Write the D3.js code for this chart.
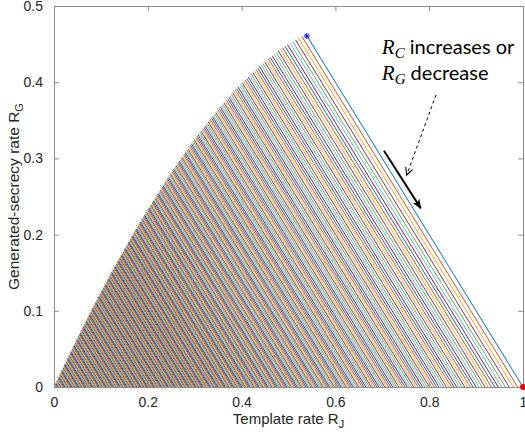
<!DOCTYPE html>
<html>
<head>
<meta charset="utf-8">
<script src="https://cdn.jsdelivr.net/npm/d3@7/dist/d3.min.js"></script>
<style>
  body { margin: 0; background: #fff; }
  text { font-family: "Liberation Sans", Arial, sans-serif; }
</style>
</head>
<body>
<svg width="525" height="439"></svg>
<script>
var curveRJ = [0, 0.0031, 0.0126, 0.0287, 0.0521, 0.0836, 0.125, 0.1787, 0.2497, 0.2948, 0.3496, 0.3894, 0.4378, 0.4781, 0.5031, 0.5214, 0.5379];
var curveRG = [0, 0.0041, 0.0164, 0.0372, 0.0666, 0.1051, 0.153, 0.2115, 0.2813, 0.3209, 0.3640, 0.3917, 0.4208, 0.4411, 0.4515, 0.4578, 0.4621];

// each line is R_J + R_G = c, c read where it meets the x axis.
// first one (blue) is the rightmost, they get denser towards the origin
var lineSums = [1.0000, 0.9886, 0.9792, 0.9705, 0.9624, 0.9546, 0.9471, 0.9398, 0.9328, 0.9259,
  0.9192, 0.9127, 0.9062, 0.9000, 0.8937, 0.8877, 0.8817, 0.8758, 0.8699, 0.8643,
  0.8586, 0.8530, 0.8475, 0.8420, 0.8367, 0.8313, 0.8261, 0.8209, 0.8158, 0.8107,
  0.8056, 0.8006, 0.7956, 0.7907, 0.7859, 0.7811, 0.7764, 0.7717, 0.7670, 0.7623,
  0.7577, 0.7532, 0.7487, 0.7442, 0.7397, 0.7352, 0.7308, 0.7265, 0.7222, 0.7179,
  0.7136, 0.7094, 0.7052, 0.7010, 0.6969, 0.6928, 0.6887, 0.6846, 0.6806, 0.6766,
  0.6726, 0.6687, 0.6648, 0.6609, 0.6571, 0.6532, 0.6494, 0.6456, 0.6418, 0.6379,
  0.6341, 0.6305, 0.6268, 0.6232, 0.6195, 0.6159, 0.6123, 0.6087, 0.6050, 0.6014,
  0.5978, 0.5944, 0.5909, 0.5875, 0.5841, 0.5807, 0.5772, 0.5738, 0.5704, 0.5669,
  0.5635, 0.5603, 0.5570, 0.5538, 0.5505, 0.5473, 0.5440, 0.5408, 0.5375, 0.5343,
  0.5310, 0.5278, 0.5247, 0.5215, 0.5184, 0.5153, 0.5122, 0.5091, 0.5060, 0.5029,
  0.4999, 0.4968, 0.4938, 0.4908, 0.4878, 0.4849, 0.4820, 0.4791, 0.4762, 0.4734,
  0.4706, 0.4677, 0.4648, 0.4620, 0.4591, 0.4563, 0.4535, 0.4508, 0.4480, 0.4453,
  0.4426, 0.4399, 0.4372, 0.4345, 0.4318, 0.4291, 0.4265, 0.4238, 0.4211, 0.4184,
  0.4158, 0.4132, 0.4106, 0.4080, 0.4055, 0.4030, 0.4005, 0.3980, 0.3955, 0.3930,
  0.3905, 0.3880, 0.3855, 0.3830, 0.3805, 0.3780, 0.3755, 0.3731, 0.3706, 0.3682,
  0.3657, 0.3634, 0.3611, 0.3588, 0.3565, 0.3542, 0.3519, 0.3496, 0.3473, 0.3450,
  0.3428, 0.3405, 0.3382, 0.3359, 0.3336, 0.3313, 0.3290, 0.3267, 0.3244, 0.3222,
  0.3199, 0.3177, 0.3155, 0.3133, 0.3111, 0.3090, 0.3069,
  0.3048, 0.3027, 0.3006, 0.2985, 0.2964, 0.2943, 0.2922, 0.2901, 0.2880, 0.2859,
  0.2838, 0.2817, 0.2796, 0.2775, 0.2754, 0.2733, 0.2712, 0.2691, 0.2670, 0.2649,
  0.2628, 0.2607, 0.2586, 0.2565, 0.2544, 0.2523, 0.2502, 0.2481, 0.2460, 0.2439,
  0.2418, 0.2397, 0.2376, 0.2355, 0.2334, 0.2313, 0.2292, 0.2271, 0.2250, 0.2229,
  0.2208, 0.2187, 0.2166, 0.2145, 0.2124, 0.2103, 0.2082, 0.2061, 0.2040, 0.2019,
  0.1998, 0.1977, 0.1956, 0.1935, 0.1914, 0.1893, 0.1872, 0.1851, 0.1830, 0.1809,
  0.1788, 0.1767, 0.1746, 0.1725, 0.1704, 0.1683, 0.1662, 0.1641, 0.1620, 0.1599,
  0.1578, 0.1557, 0.1536, 0.1515, 0.1494, 0.1473, 0.1452, 0.1431, 0.1410, 0.1389,
  0.1368, 0.1347, 0.1326, 0.1305, 0.1284, 0.1263, 0.1242, 0.1221, 0.1200, 0.1179,
  0.1158, 0.1137, 0.1116, 0.1095, 0.1074, 0.1053, 0.1032, 0.1011, 0.0990, 0.0969,
  0.0948, 0.0927, 0.0906, 0.0885, 0.0864, 0.0843, 0.0822, 0.0801, 0.0780, 0.0759,
  0.0738, 0.0717, 0.0696, 0.0675, 0.0654, 0.0633, 0.0612, 0.0591, 0.0570, 0.0549,
  0.0528, 0.0507, 0.0486, 0.0465, 0.0444, 0.0423, 0.0402, 0.0381, 0.0360, 0.0339,
  0.0318, 0.0297, 0.0276, 0.0255, 0.0234, 0.0213, 0.0192, 0.0171, 0.0150, 0.0129,
  0.0108, 0.0087, 0.0066, 0.0045, 0.0024];

var xTicks = [0, 0.2, 0.4, 0.6, 0.8, 1];
var yTicks = [0, 0.1, 0.2, 0.3, 0.4, 0.5];
var starPoint = [0.539, 0.4606];
var redPoint = [1, 0];

// matlab default color order
var colorOrder = ["#0072BD", "#D95319", "#EDB120", "#7E2F8E", "#77AC30", "#4DBEEE", "#A2142F"];

var svg = d3.select("svg");
var margin = {top: 6, right: 2, bottom: 52, left: 54};
var width = +svg.attr("width") - margin.left - margin.right,
    height = +svg.attr("height") - margin.top - margin.bottom;

var g = svg.append("g").attr("transform", "translate(" + margin.left + "," + margin.top + ")");

var x = d3.scaleLinear().domain([0, 1]).range([0, width]);
var y = d3.scaleLinear().domain([0, 0.5]).range([height, 0]);

g.append("clipPath").attr("id", "clip")
  .append("rect").attr("width", width).attr("height", height);

// where the line R_J + R_G = c starts on the boundary curve
function startOn(c) {
  for (var i = 0; i < curveRJ.length - 1; i++) {
    var s0 = curveRJ[i] + curveRG[i], s1 = curveRJ[i + 1] + curveRG[i + 1];
    if (c >= s0 && c <= s1) {
      var t = (c - s0) / (s1 - s0);
      return [curveRJ[i] + t * (curveRJ[i + 1] - curveRJ[i]), curveRG[i] + t * (curveRG[i + 1] - curveRG[i])];
    }
  }
  return [curveRJ[curveRJ.length - 1], curveRG[curveRG.length - 1]];
}

var segs = lineSums.map(function(c, i) {
  return {pts: [startOn(c), [c, 0]], color: colorOrder[i % colorOrder.length]};
});

var line = d3.line().x(function(d) { return x(d[0]); }).y(function(d) { return y(d[1]); });

// plotted in order, like matlab does with hold on
g.append("g").attr("clip-path", "url(#clip)")
  .selectAll("path")
  .data(segs)
  .enter().append("path")
  .attr("fill", "none")
  .attr("stroke", function(d) { return d.color; })
  .attr("stroke-width", 1)
  .attr("d", function(d) { return line(d.pts); });

// axes (box with inward ticks like matlab)
var axisColor = "#8c8c8c";
function styleAxis(sel) {
  sel.select(".domain").remove();
  sel.selectAll(".tick line").attr("stroke", axisColor);
  sel.selectAll(".tick text").attr("fill", "#262626").style("font-size", "14px");
}
g.append("g").attr("transform", "translate(0," + height + ")")
  .call(d3.axisBottom(x).tickValues(xTicks).tickSize(-5).tickPadding(10).tickFormat(d3.format("")))
  .call(styleAxis);
g.append("g")
  .call(d3.axisTop(x).tickValues(xTicks).tickSize(-5).tickFormat(""))
  .call(styleAxis);
g.append("g")
  .call(d3.axisLeft(y).tickValues(yTicks).tickSize(-5).tickPadding(11).tickFormat(d3.format("")))
  .call(styleAxis);
g.append("g").attr("transform", "translate(" + width + ",0)")
  .call(d3.axisRight(y).tickValues(yTicks).tickSize(-5).tickFormat(""))
  .call(styleAxis);

g.append("rect")
  .attr("width", width).attr("height", height)
  .attr("fill", "none").attr("stroke", axisColor).attr("stroke-width", 1)
  .attr("shape-rendering", "crispEdges");

// markers
g.append("circle")
  .attr("cx", x(redPoint[0])).attr("cy", y(redPoint[1]))
  .attr("r", 3).attr("fill", "#ff0000");

var star = g.append("g").attr("transform", "translate(" + x(starPoint[0]) + "," + y(starPoint[1]) + ")")
  .attr("stroke", "#0000ff").attr("stroke-width", 1);
[[-3, 0, 3, 0], [0, -3, 0, 3], [-2.2, -2.2, 2.2, 2.2], [-2.2, 2.2, 2.2, -2.2]].forEach(function(s) {
  star.append("line").attr("x1", s[0]).attr("y1", s[1]).attr("x2", s[2]).attr("y2", s[3]);
});

// axis labels
var xl = svg.append("text")
  .attr("x", margin.left + width / 2).attr("y", 424)
  .attr("text-anchor", "middle").attr("fill", "#262626").style("font-size", "15px");
xl.append("tspan").text("Template rate R");
xl.append("tspan").attr("dy", 4).style("font-size", "11px").text("J");

var yl = svg.append("text")
  .attr("transform", "translate(19," + (margin.top + height / 2) + ") rotate(-90)")
  .attr("text-anchor", "middle").attr("fill", "#262626").style("font-size", "15.5px");
yl.append("tspan").text("Generated-secrecy rate R");
yl.append("tspan").attr("dy", 4).style("font-size", "11px").text("G");

// annotation
var annoText = [
  {sub: "C", rest: " increases or", at: [0.699, 0.4364]},
  {sub: "G", rest: " decrease", at: [0.699, 0.4029]}
];
annoText.forEach(function(a) {
  var t = g.append("text").attr("x", x(a.at[0])).attr("y", y(a.at[1])).attr("fill", "#000");
  t.append("tspan").style("font-family", "'Liberation Serif', serif").style("font-style", "italic")
    .style("font-size", "21px").text("R");
  t.append("tspan").attr("dy", 4).style("font-family", "'Liberation Serif', serif").style("font-style", "italic")
    .style("font-size", "15px").text(a.sub);
  t.append("tspan").attr("dy", -4).style("font-family", "Lato, sans-serif").style("font-size", "20px").text(a.rest);
});

var defs = svg.append("defs");
defs.append("marker").attr("id", "headSolid")
  .attr("viewBox", "0 0 10 10").attr("refX", 9).attr("refY", 5)
  .attr("markerWidth", 5).attr("markerHeight", 5).attr("orient", "auto")
  .append("path").attr("d", "M0,1 L10,5 L0,9 L3,5 z").attr("fill", "#000");
defs.append("marker").attr("id", "headOpen")
  .attr("viewBox", "0 0 10 10").attr("refX", 9).attr("refY", 5)
  .attr("markerWidth", 9).attr("markerHeight", 9).attr("orient", "auto").attr("markerUnits", "userSpaceOnUse")
  .append("path").attr("d", "M1,1 L9,5 L1,9").attr("fill", "none").attr("stroke", "#000").attr("stroke-width", 1.2);

var arrows = [
  {from: [0.8145, 0.3832], to: [0.752, 0.2782], dash: "3,3", width: 1, head: "headOpen"},
  {from: [0.7036, 0.3101], to: [0.7819, 0.2345], dash: null, width: 2, head: "headSolid"}
];
arrows.forEach(function(a) {
  g.append("line")
    .attr("x1", x(a.from[0])).attr("y1", y(a.from[1]))
    .attr("x2", x(a.to[0])).attr("y2", y(a.to[1]))
    .attr("stroke", "#000").attr("stroke-width", a.width)
    .attr("stroke-dasharray", a.dash)
    .attr("marker-end", "url(#" + a.head + ")");
});
</script>
</body>
</html>
